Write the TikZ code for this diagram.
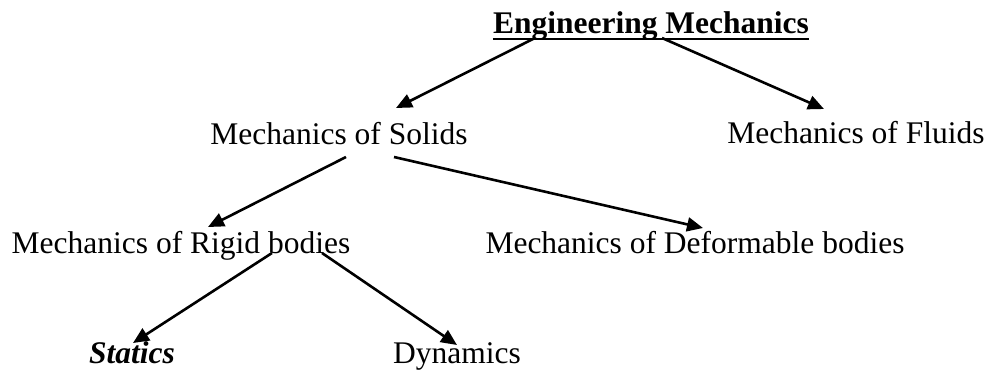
\documentclass[tikz,border=0pt]{standalone}
\usepackage{fontspec}
\setmainfont{Liberation Serif}
\usetikzlibrary{arrows.meta}
\begin{document}
\begin{tikzpicture}[x=1pt,y=-1pt,>={Triangle[length=16pt,width=14pt]},
    lbl/.style={inner sep=0pt,anchor=base,font=\fontsize{31.5}{36}\selectfont},
    link/.style={->,line width=2.6pt}]
    \useasboundingbox (0,0) rectangle (988,370);
    % levels of the tree
    \node[lbl] (title) at (651,33) {\textbf{Engineering Mechanics}};
    \node[lbl] (solids) at (339,144) {Mechanics of Solids};
    \node[lbl] (fluids) at (856,143) {Mechanics of Fluids};
    \node[lbl] (rigid) at (181,253) {Mechanics of Rigid bodies};
    \node[lbl] (deform) at (695,253) {Mechanics of Deformable bodies};
    \node[lbl] (statics) at (132,363) {\textbf{\textit{Statics}}};
    \node[lbl] (dynamics) at (457,363) {Dynamics};
    % underline of the title
    \draw[line width=2.8pt] ([yshift=-6pt]title.base west) -- ([yshift=-6pt]title.base east);
    % arrows
    \draw[link] ([xshift=-116pt,yshift=-5pt]title.base) -- ([xshift=57pt,yshift=36pt]solids.base);
    \draw[link] ([xshift=11pt,yshift=-5pt]title.base) -- ([xshift=-32pt,yshift=34pt]fluids.base);
    \draw[link] ([xshift=7pt,yshift=-13pt]solids.base) -- ([xshift=27pt,yshift=26pt]rigid.base);
    \draw[link] ([xshift=55pt,yshift=-13pt]solids.base) -- ([xshift=8pt,yshift=25pt]deform.base);
    \draw[link] ([xshift=91pt]rigid.base) -- ([xshift=1pt,yshift=20pt]statics.base);
    \draw[link] ([xshift=141pt]rigid.base) -- ([yshift=18pt]dynamics.base);
  \end{tikzpicture}
\end{document}
